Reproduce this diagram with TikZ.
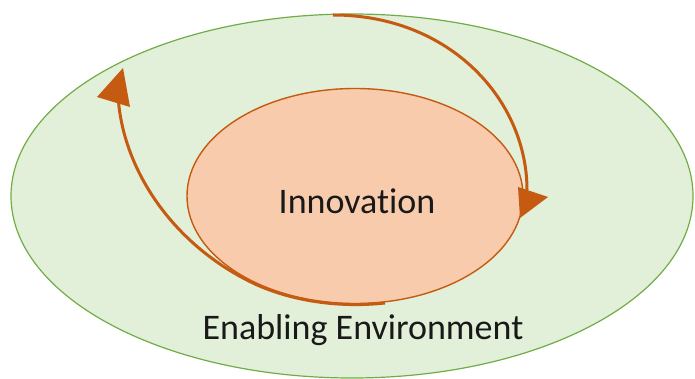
\documentclass[tikz,border=0pt]{standalone}
\usepackage{fontspec}
\setmainfont[Ligatures={NoCommon}]{Carlito}
\usetikzlibrary{shapes.geometric}
\definecolor{envfill}{HTML}{E2EFD9}
\definecolor{envline}{HTML}{70AD47}
\definecolor{innfill}{HTML}{F8CBAD}
\definecolor{innline}{HTML}{C55A11}
\definecolor{arr}{HTML}{C55A11}
\tikzset{
  envell/.style={ellipse, draw=envline, fill=envfill, line width=1.2pt, minimum width=682pt, minimum height=364pt, inner sep=0pt},
  innell/.style={ellipse, draw=innline, fill=innfill, line width=1.4pt, minimum width=336pt, minimum height=215pt, inner sep=0pt},
  lbl/.style={font=\fontsize{36}{40}\selectfont, text=black!90, inner sep=0pt},
  arrline/.style={draw=arr, line width=3pt},
  arrhead/.style={fill=arr, draw=none}
}
\begin{document}
\begin{tikzpicture}[x=1pt,y=-1pt]
\useasboundingbox (0,0) rectangle (695,379);
\node[envell] (env) at (352,196) {};
\node[innell] (inn) at (355,196) {};
\node[lbl] (tinn) at (357,201) {Innovation};
\node[lbl] (tenv) at (363,330) {Enabling Environment};
% arrow 1 (top, clockwise)
\coordinate (a1s) at (333,15);
\coordinate (a1e) at (527,190);
\draw[arrline] (a1s) .. controls (450,15) and (527,100) .. (a1e);
\fill[arrhead] (518,187) -- (548,197) -- (520,218) -- cycle;
% arrow 2 (bottom, hugging the inner ellipse, then up-left)
\coordinate (a2s) at (385,303);
\coordinate (a2m) at (255,284);
\coordinate (a2e) at (118,95);
\draw[arrline] (a2s) .. controls (339,308) and (292,301) .. (a2m)
  .. controls (174,246) and (122,170) .. (a2e);
\fill[arrhead] (97,97) -- (123,68) -- (130,107) -- cycle;
\end{tikzpicture}
\end{document}
